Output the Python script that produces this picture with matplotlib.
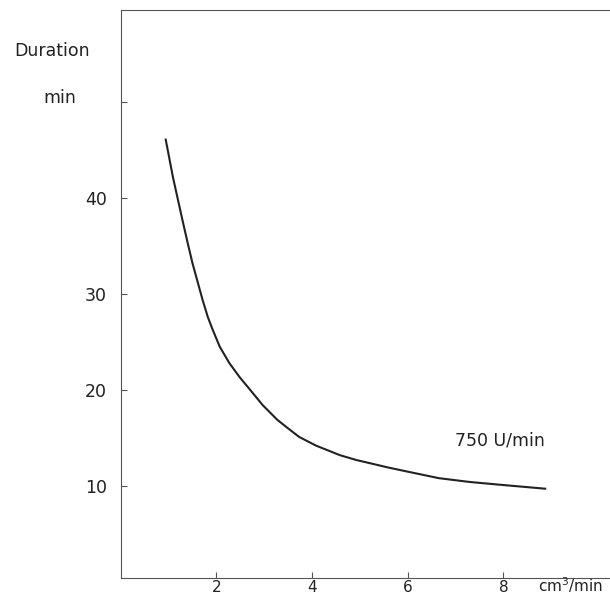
import matplotlib
matplotlib.use("Agg")
import matplotlib.pyplot as plt

# flow rate (cm^3/min) vs. duration (min)
flow = [0.94, 1.09, 1.29, 1.40, 1.50, 1.71, 1.82, 1.92, 2.07, 2.27,
        2.49, 2.69, 2.97, 3.27, 3.47, 3.73, 4.08, 4.58, 4.92, 5.60,
        5.98, 6.65, 7.30, 7.96, 8.875]
duration = [46.1, 42.2, 37.7, 35.3, 33.2, 29.4, 27.6, 26.3, 24.5, 22.8,
            21.3, 20.1, 18.4, 16.9, 16.1, 15.1, 14.2, 13.2, 12.7, 11.9,
            11.5, 10.8, 10.4, 10.1, 9.7]
xticks = [2, 4, 6, 8]
yticks = [10, 20, 30, 40, 50]
ylabels = ["10", "20", "30", "40", ""]

fig = plt.figure(figsize=(6.1, 5.97), dpi=100)
ax = fig.add_axes([0.198, 0.032, 0.802, 0.951])

ax.plot(flow, duration, color="#222222", lw=1.5, solid_joinstyle="round")

ax.set_xlim(0, 10.23)
ax.set_ylim(0.4, 59.6)
ax.set_xticks(xticks)
ax.set_xticklabels([str(t) for t in xticks])
ax.set_yticks(yticks)
ax.set_yticklabels(ylabels)
ax.tick_params(direction="in", length=4, width=0.8, colors="#555555",
               labelcolor="#222222", labelsize=12.5)
ax.tick_params(axis="y", pad=10)
ax.tick_params(axis="x", pad=1.5, labelsize=11)

for side in ["left", "bottom", "top"]:
    ax.spines[side].set_color("#555555")
    ax.spines[side].set_linewidth(0.8)
ax.spines["right"].set_visible(False)

ax.text(7.93, 14.7, "750 U/min", ha="center", va="center",
        fontsize=12.5, color="#222222")
fig.text(52 / 610, 1 - 51 / 597, "Duration", ha="center", va="center",
         fontsize=12.5, color="#222222")
fig.text(60 / 610, 1 - 98 / 597, "min", ha="center", va="center",
         fontsize=12.5, color="#222222")
fig.text(571 / 610, 0.003, "cm$^3$/min", ha="center", va="bottom",
         fontsize=11, color="#222222")

fig.savefig("out.png", dpi=100, facecolor="white")
